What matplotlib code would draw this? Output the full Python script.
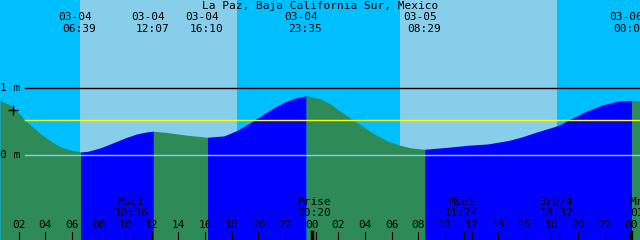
import matplotlib
matplotlib.use("Agg")
import matplotlib.pyplot as plt
import numpy as np

# hours counted from 03-04 00:00
title = "La Paz, Baja California Sur, Mexico"
t_start, t_end = 0.6, 48.65

# high / low tide events
tide_t = [6.65, 12.117, 16.167, 23.583, 32.483, 48.017]
tide_h = [0.05, 0.36, 0.27, 0.89, 0.09, 0.82]
tide_date = ["03-04", "03-04", "03-04", "03-04", "03-05", "03-06"]
tide_time = ["06:39", "12:07", "16:10", "23:35", "08:29", "00:01"]

# tide height (m)
curve_t = [0.60, 1.35, 2.10, 2.48, 2.85, 3.60, 4.35, 5.10, 5.86, 7.20, 8.11, 8.63,
           9.38, 10.13, 10.89, 11.64, 13.14, 14.64, 17.42, 18.39, 19.67, 20.42,
           21.17, 21.92, 22.67, 24.70, 25.45, 26.20, 27.18, 27.93, 28.68, 29.73,
           30.63, 31.46, 34.23, 35.74, 37.24, 38.74, 39.71, 40.77, 42.42, 43.24,
           44.52, 45.80, 47.00, 48.65]
curve_h = [0.82, 0.75, 0.61, 0.52, 0.46, 0.33, 0.22, 0.13, 0.08, 0.06, 0.11, 0.15,
           0.21, 0.27, 0.32, 0.35, 0.34, 0.30, 0.29, 0.37, 0.52, 0.62,
           0.71, 0.79, 0.85, 0.84, 0.76, 0.65, 0.52, 0.42, 0.32, 0.21,
           0.15, 0.11, 0.12, 0.15, 0.17, 0.22, 0.27, 0.34, 0.44, 0.52,
           0.65, 0.75, 0.81, 0.81]

# daylight periods
sun_rise = [6.60, 30.63]
sun_set = [18.39, 42.42]

# moon events
moon_t = [10.60, 24.333, 35.40, 42.533, 49.30]
moon_name = ["Mset", "Mrise", "Mset", "3rd/4", "Mrise"]
moon_time = ["10:36", "00:20", "11:24", "18:32", "01:18"]

mark_level = 0.52

night_c = "#00BFFF"
day_c = "#87CEEB"
rise_c = "#0000FF"
fall_c = "#2E8B57"
fs = 8
mono = "DejaVu Sans Mono"

fig = plt.figure(figsize=(6.4, 2.4), dpi=100)
ax = fig.add_axes([0, 0, 1, 1])
ax.set_xlim(t_start, t_end)
y_top, y_bot = 2.318, -1.264
ax.set_ylim(y_bot, y_top)
ax.axis("off")

ax.axvspan(t_start, t_end, color=night_c, lw=0)
for a, b in zip(sun_rise, sun_set):
    ax.axvspan(a, b, color=day_c, lw=0)

t = np.array(curve_t + tide_t)
h = np.array(curve_h + tide_h)
order = np.argsort(t)
t, h = t[order], h[order]

# falling = green, rising = blue
bounds = [t_start] + tide_t + [t_end]
for i in range(len(bounds) - 1):
    a, b = bounds[i], bounds[i + 1]
    m = (t >= a - 1e-6) & (t <= b + 1e-6)
    col = rise_c if i % 2 == 1 else fall_c
    ax.fill_between(t[m], h[m], y_bot, color=col, lw=0)

x0 = 25 / 640
ax.axhline(1, xmin=x0, color="black", lw=1.0)
ax.axhline(mark_level, xmin=x0, color="yellow", lw=1.0)
ax.axhline(0, xmin=x0, color="#87CEEB", lw=1.0)
ax.text(t_start + 0.02, 1, "1 m", fontsize=fs, family=mono, va="center", ha="left")
ax.text(t_start + 0.02, 0, "0 m", fontsize=fs, family=mono, va="center", ha="left")
ax.plot([t_start + 13 / 13.32], [0.68], marker="+", color="black", ms=7, mew=1)

tr = ax.get_xaxis_transform()
px = 1 / 13.32
ax.text(0.5, 1 - 6 / 240, title, transform=ax.transAxes, fontsize=fs, family=mono,
        ha="center", va="center")
for tt, d, tm in zip(tide_t, tide_date, tide_time):
    ax.text(tt - 5 * px, 1 - 17 / 240, d, transform=tr, fontsize=fs, family=mono,
            ha="center", va="center")
    ax.text(tt - 1 * px, 1 - 29 / 240, tm, transform=tr, fontsize=fs, family=mono,
            ha="center", va="center")

for tt, nm, tm in zip(moon_t, moon_name, moon_time):
    ax.text(tt - 2 * px, 1 - 202 / 240, nm, transform=tr, fontsize=fs, family=mono,
            ha="center", va="center")
    ax.text(tt - 2 * px, 1 - 213 / 240, tm, transform=tr, fontsize=fs, family=mono,
            ha="center", va="center")
    ax.plot([tt, tt], [0, 8 / 240], transform=tr, color="black", lw=0.8)

hours = np.arange(2, 49, 2)
for hr in hours:
    ax.text(hr, 1 - 225 / 240, "%02d" % (hr % 24), transform=tr, fontsize=fs,
            family=mono, ha="center", va="center")
    lw = 2.5 if hr % 24 == 0 else 0.8
    ax.plot([hr, hr], [0, 8 / 240], transform=tr, color="black", lw=lw)

fig.savefig("out.png", dpi=100)
